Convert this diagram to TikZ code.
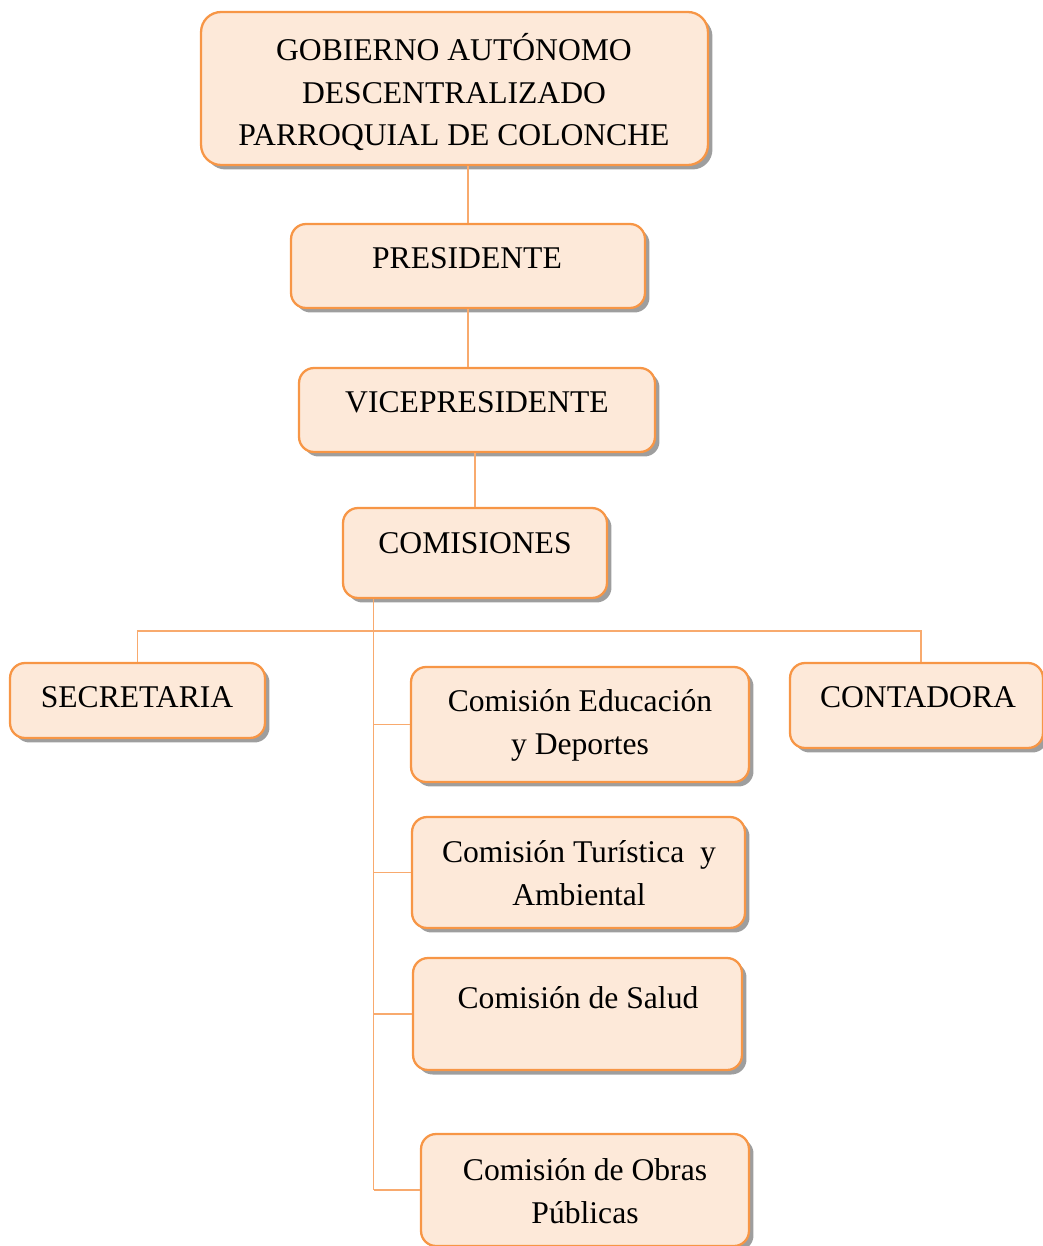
\documentclass[tikz,border=0pt]{standalone}
\usepackage{fontspec}
\setmainfont{Liberation Serif}
\usetikzlibrary{shadows}
\definecolor{boxfill}{RGB}{253,233,217}
\definecolor{boxline}{RGB}{247,150,70}
\definecolor{linkline}{RGB}{248,170,110}
\tikzstyle{unitbox}=[draw=boxline, fill=boxfill, line width=1.3pt, rounded corners=0.3cm,
  drop shadow={shadow xshift=0.09cm, shadow yshift=-0.09cm, fill=black!38, opacity=1}]
\tikzstyle{unittext}=[inner sep=0pt, align=center, font=\fontsize{18}{24.4}\selectfont]
\tikzstyle{link}=[draw=linkline, line width=0.7pt]

\begin{document}
\begin{tikzpicture}[x=0.02cm, y=-0.02cm]
      \useasboundingbox (0,0) rectangle (1043,1246);

      \node[unitbox, rounded corners=0.4cm, minimum width=10.14cm, minimum height=3.06cm] (gad) at (454.5, 88.5) {};
      \node[unittext] (gad-t) at (454, 92) {GOBIERNO AUTÓNOMO\\DESCENTRALIZADO\\PARROQUIAL DE COLONCHE};

      \node[unitbox, minimum width=7.08cm, minimum height=1.68cm] (pres) at (468, 266) {};
      \node[unittext] (pres-t) at (467, 258) {PRESIDENTE};

      \node[unitbox, minimum width=7.12cm, minimum height=1.68cm] (vice) at (477, 410) {};
      \node[unittext] (vice-t) at (477, 402) {VICEPRESIDENTE};

      \node[unitbox, minimum width=5.28cm, minimum height=1.80cm] (com) at (475, 553) {};
      \node[unittext] (com-t) at (475, 543) {COMISIONES};

      \node[unitbox, minimum width=5.10cm, minimum height=1.50cm] (secre) at (137.5, 700.5) {};
      \node[unittext] (secre-t) at (137, 697) {SECRETARIA};

      \node[unitbox, minimum width=5.06cm, minimum height=1.70cm] (conta) at (916.5, 705.5) {};
      \node[unittext] (conta-t) at (918, 697) {CONTADORA};

      \node[unitbox, minimum width=6.76cm, minimum height=2.30cm] (edu) at (580, 724.5) {};
      \node[unittext] (edu-t) at (580, 725) {Comisión Educación\\y Deportes};

      \node[unitbox, minimum width=6.66cm, minimum height=2.22cm] (tur) at (578.5, 872.5) {};
      \node[unittext] (tur-t) at (579, 873.5) {Comisión Turística~~y\\Ambiental};

      \node[unitbox, minimum width=6.58cm, minimum height=2.24cm] (salud) at (577.5, 1014) {};
      \node[unittext] (salud-t) at (578, 998) {Comisión de Salud};

      \node[unitbox, minimum width=6.56cm, minimum height=2.24cm] (obras) at (585, 1190) {};
      \node[unittext] (obras-t) at (585, 1191) {Comisión de Obras\\Públicas};

      % chain of command
      \draw[link] (pres.north) -- (pres.north |- gad.south);
      \draw[link] (pres.south) -- (pres.south |- vice.north);
      \draw[link] (com.north) -- (com.north |- vice.south);

      % branches under the commissions
      \coordinate (spine) at ([xshift=0.64cm]com.south west);
      \coordinate (bar) at (375, 631);
      \coordinate (conta-in) at ([xshift=0.09cm]conta.north);
      \draw[link] (spine) -- (spine |- obras.west);
      \draw[link] (secre.north) |- (bar) -| (conta-in);
      \draw[link] (spine |- edu.west) -- (edu.west);
      \draw[link] (spine |- tur.west) -- (tur.west);
      \draw[link] (spine |- salud.west) -- (salud.west);
      \draw[link] (spine |- obras.west) -- (obras.west);
    \end{tikzpicture}
\end{document}
